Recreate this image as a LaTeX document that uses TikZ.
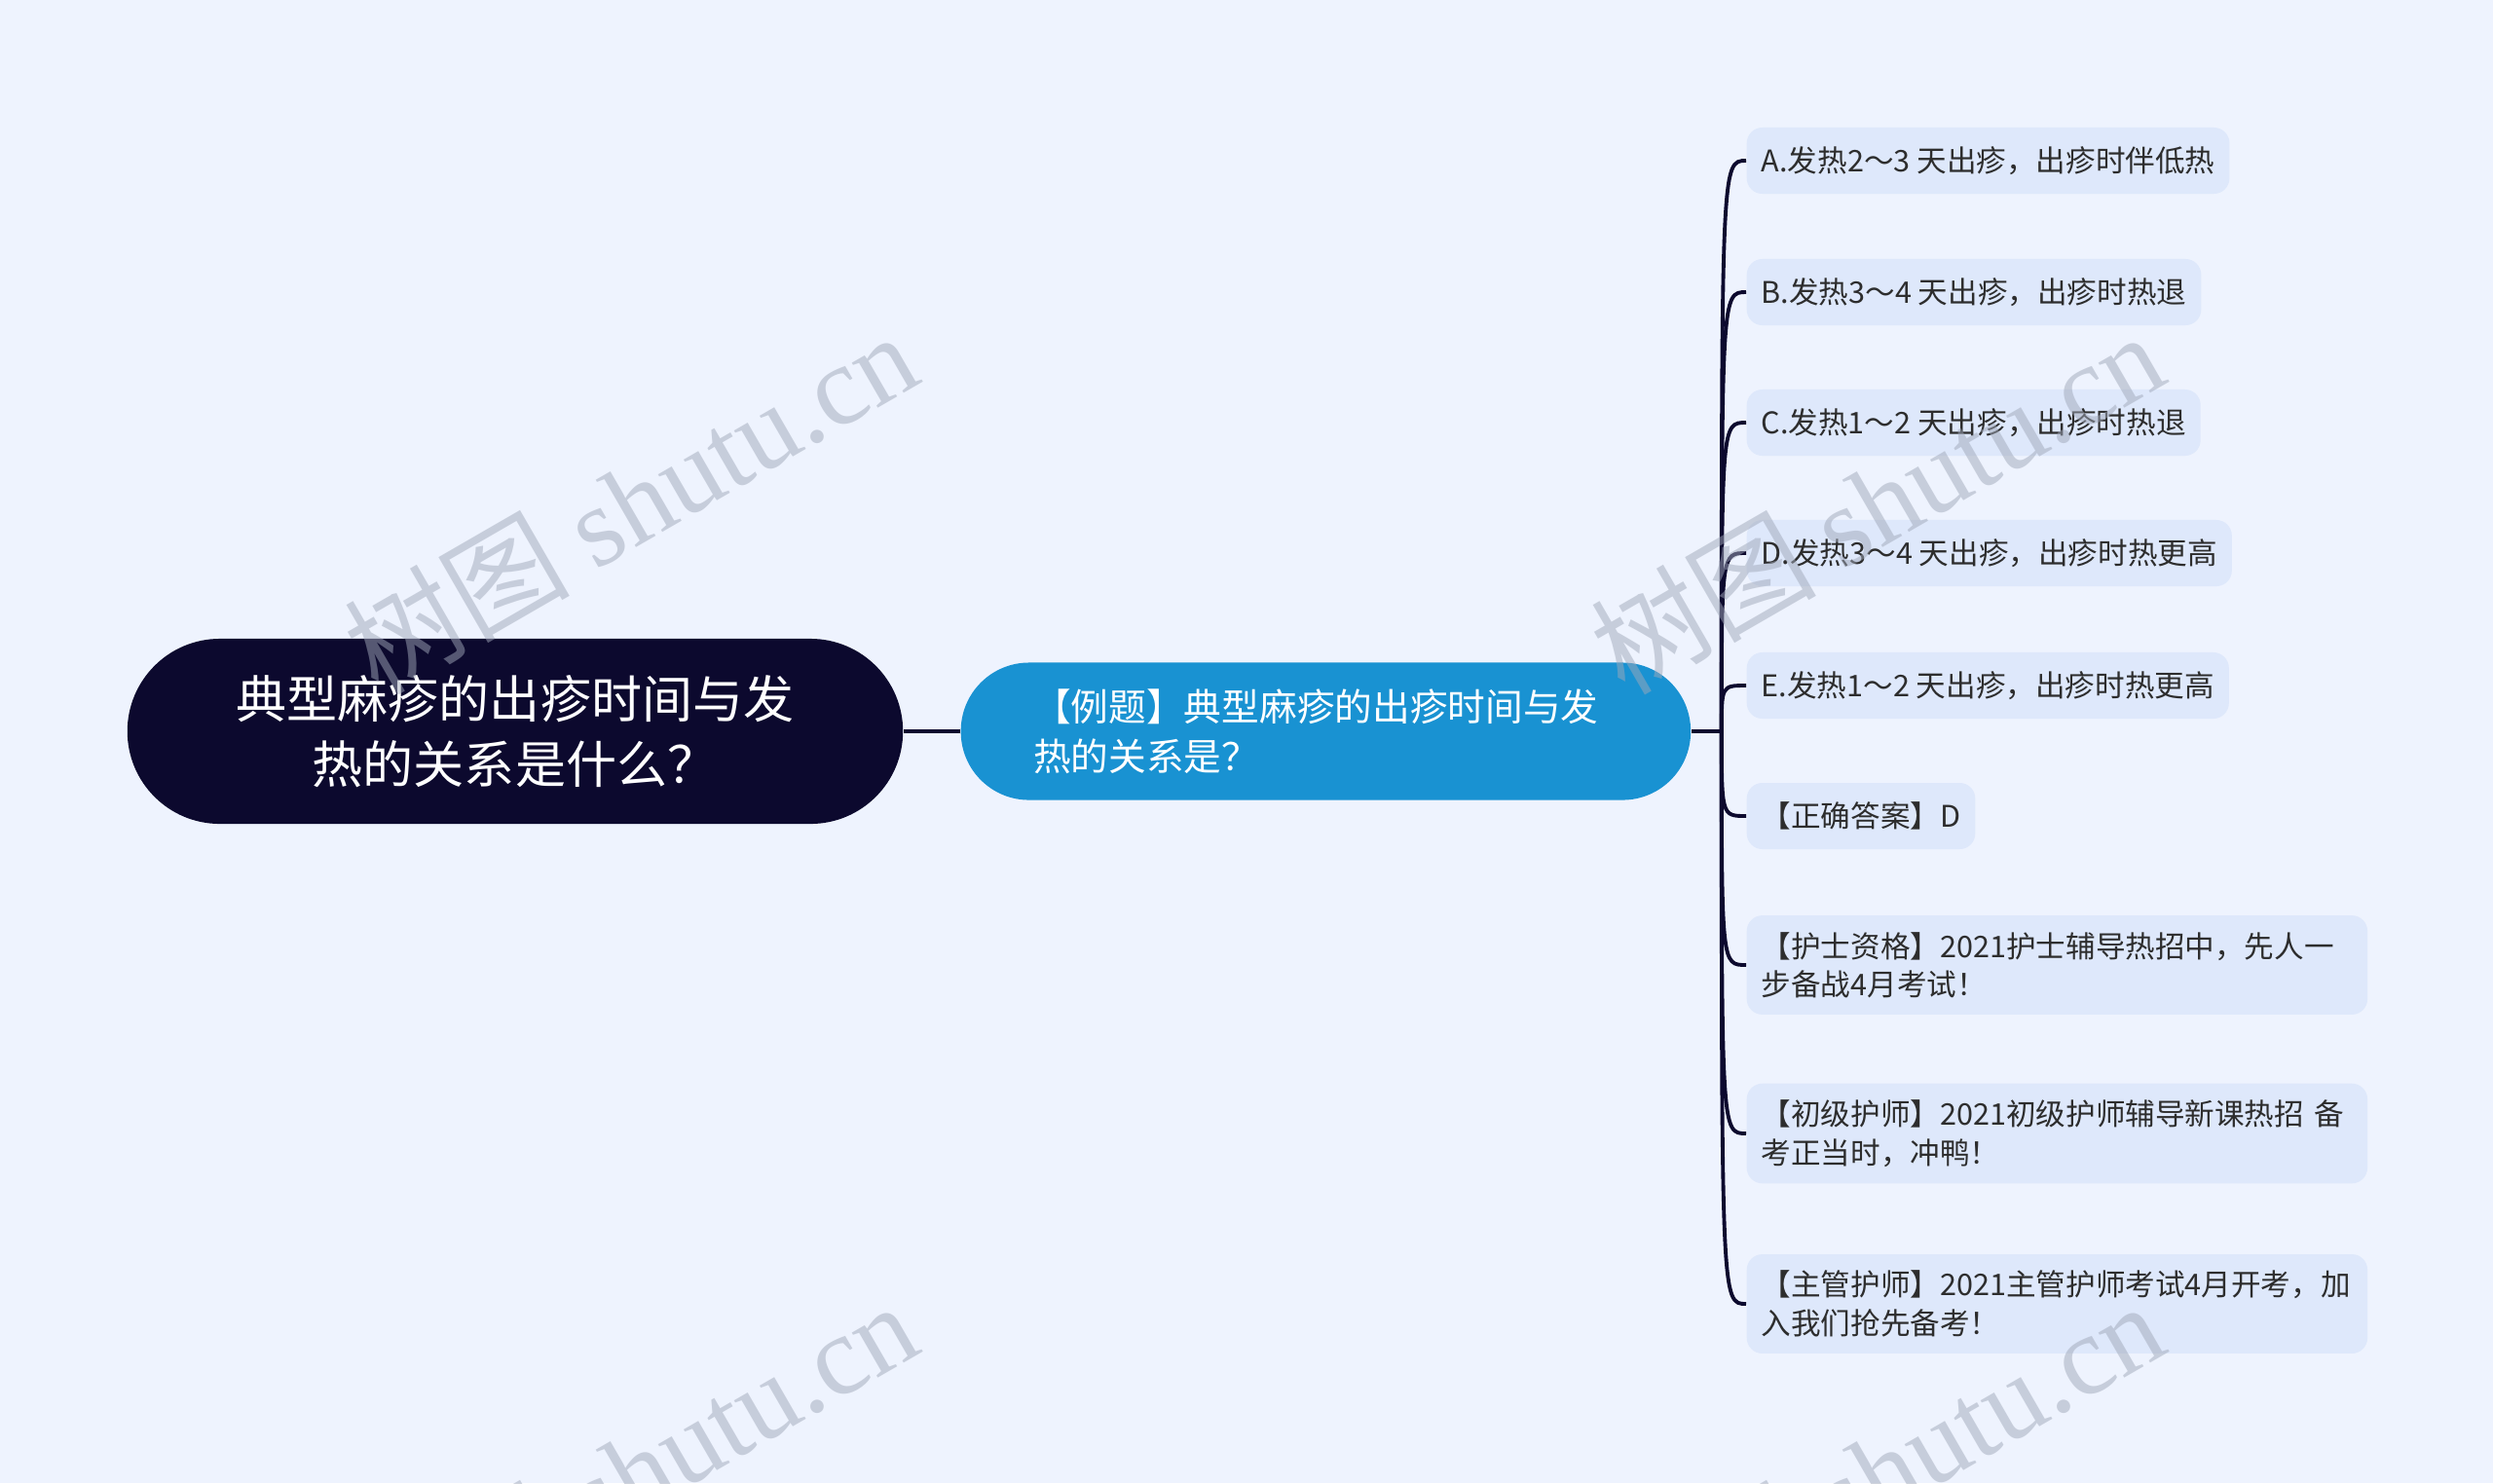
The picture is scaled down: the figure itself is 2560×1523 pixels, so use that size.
\documentclass[tikz,border=0pt]{standalone}
\usepackage{fontspec}
\setmainfont{Noto Sans CJK SC}
\newfontfamily\wmfont{Liberation Serif}
\usetikzlibrary{positioning}

\definecolor{bgblue}{RGB}{238,243,254}
\definecolor{navy}{RGB}{12,9,46}
\definecolor{qblue}{RGB}{25,146,210}
\definecolor{leafblue}{RGB}{222,232,251}
\definecolor{leaftext}{RGB}{45,45,45}
\definecolor{wmgray}{RGB}{160,168,185}

\begin{document}
\begin{tikzpicture}[
        x=0.01cm, y=-0.01cm,
        rootbox/.style={rectangle, fill=navy, text=white, rounded corners=0.95cm, minimum width=7.96cm, minimum height=1.9cm, align=center, font=\fontsize{14.8pt}{19pt}\selectfont},
        subbox/.style={rectangle, fill=qblue, text=white, rounded corners=0.7cm, minimum width=7.49cm, minimum height=1.41cm, text width=6cm, align=left, font=\fontsize{11pt}{14.4pt}\selectfont},
        leafbox/.style={rectangle, fill=leafblue, text=leaftext, rounded corners=0.16cm, minimum height=0.68cm, inner xsep=0.15cm, inner ysep=0.17cm, align=left, anchor=west, font=\fontsize{8.7pt}{11.2pt}\selectfont},
        wideleaf/.style={leafbox, text width=6.07cm},
        link/.style={draw=navy, line width=1.1pt},
        watermark/.style={text=wmgray, opacity=0.5, rotate=30, font=\fontsize{33pt}{33pt}\selectfont}
    ]
    % Canvas
    \useasboundingbox (0,0) rectangle (2560,1523);
    \fill[bgblue] (0,0) rectangle (2560,1523);
    \clip (0,0) rectangle (2560,1523);

    % Root topic
    \node[rootbox] (root) at (529,751) {典型麻疹的出疹时间与发\\热的关系是什么？};

    % Question branch
    \node[subbox, right=0.58cm of root] (question) {【例题】典型麻疹的出疹时间与发\\热的关系是？};
    \coordinate[right=0.31cm of question] (hub);

    % Options
    \node[leafbox] (opt_a) at (1793,165) {A.发热2～3 天出疹，出疹时伴低热};
    \node[leafbox] (opt_b) at (1793,300) {B.发热3～4 天出疹，出疹时热退};
    \node[leafbox] (opt_c) at (1793,434) {C.发热1～2 天出疹，出疹时热退};
    \node[leafbox] (opt_d) at (1793,568) {D.发热3～4 天出疹，出疹时热更高};
    \node[leafbox] (opt_e) at (1793,704) {E.发热1～2 天出疹，出疹时热更高};
    \node[leafbox] (answer) at (1793,838) {【正确答案】D};

    % Course notes
    \node[wideleaf] (ad_nurse) at (1793,991) {【护士资格】2021护士辅导热招中，先人一\\步备战4月考试！};
    \node[wideleaf] (ad_junior) at (1793,1164) {【初级护师】2021初级护师辅导新课热招 备\\考正当时，冲鸭！};
    \node[wideleaf] (ad_senior) at (1793,1339) {【主管护师】2021主管护师考试4月开考，加\\入我们抢先备考！};

    % Connect everything
    \draw[link] (root) -- (question);
    \draw[link] (question) -- (hub);
    \foreach \leaf in {opt_a,opt_b,opt_c,opt_d,opt_e,answer,ad_nurse,ad_junior,ad_senior}
        \draw[link] (hub) .. controls (hub |- \leaf.west) .. (\leaf.west);

    % Watermarks
    \foreach \wx/\wy [count=\i] in {647/515, 1927/515, 647/1511, 1927/1511}
        \node[watermark] (wm\i) at (\wx,\wy) {树图 {\wmfont shutu.cn}};
\end{tikzpicture}
\end{document}
